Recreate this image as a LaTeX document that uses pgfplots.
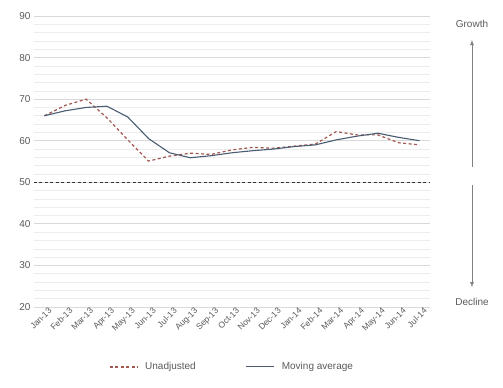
\documentclass[border=0pt]{standalone}
\usepackage{pgfplots}
\pgfplotsset{compat=1.18}
\usepackage{fontspec}
\setmainfont{Liberation Sans}
\definecolor{unadj}{HTML}{A0574F}
\definecolor{mavg}{HTML}{4A5C72}
\definecolor{txt}{HTML}{595959}
\definecolor{majgrid}{HTML}{D9D9D9}
\definecolor{mingrid}{HTML}{EDEDED}
\begin{document}
\begin{tikzpicture}
\useasboundingbox (-34bp,-81bp) rectangle (469bp,307bp);
\begin{axis}[
  at={(0,0)}, anchor=south west,
  scale only axis, width=396bp, height=291bp,
  xmin=-0.5, xmax=18.5, ymin=20, ymax=90,
  ytick={20,30,...,90}, minor y tick num=4,
  xtick={0,...,18},
  xticklabels={Jan-13,Feb-13,Mar-13,Apr-13,May-13,Jun-13,Jul-13,Aug-13,Sep-13,Oct-13,Nov-13,Dec-13,Jan-14,Feb-14,Mar-14,Apr-14,May-14,Jun-14,Jul-14},
  x tick label style={rotate=45, anchor=north east, font=\fontsize{8.5bp}{10bp}\selectfont, text=txt, inner sep=0.5bp, xshift=3bp, yshift=-2bp},
  y tick label style={font=\fontsize{10bp}{12bp}\selectfont, text=txt},
  /pgf/number format/assume math mode=true,
  axis line style={draw=none},
  major tick length=0pt, minor tick length=0pt,
  ymajorgrids, yminorgrids,
  major grid style={draw=majgrid, line width=0.8pt},
  minor grid style={draw=mingrid, line width=0.6pt},
  clip=false,
  legend columns=2,
  legend style={at={(0.5,-0.206)}, anchor=center, draw=none, fill=none,
    font=\fontsize{10bp}{12bp}\selectfont, text=txt,
    /tikz/every even column/.append style={column sep=48bp}},
  legend image code/.code={\draw[#1] (0bp,0bp) -- (28bp,0bp); \path (33bp,0bp);},
]
\addplot[unadj, line width=1.2pt, dash pattern=on 3pt off 2.5pt] coordinates {
(0,66) (1,68.5) (2,70) (3,65.5) (4,60.2) (5,55.1) (6,56.3) (7,57) (8,56.7) (9,57.8) (10,58.4) (11,58.2) (12,58.7) (13,59.2) (14,62.2) (15,61.4) (16,61.4) (17,59.5) (18,59)
};
\addlegendentry{Unadjusted}
\addplot[mavg, line width=1.1pt] coordinates {
(0,66) (1,67.2) (2,68) (3,68.3) (4,65.7) (5,60.5) (6,57.1) (7,55.9) (8,56.4) (9,57.1) (10,57.6) (11,58) (12,58.6) (13,59) (14,60.2) (15,61.1) (16,61.8) (17,60.8) (18,60)
};
\addlegendentry{Moving average}
\draw[black!80, line width=1pt, dash pattern=on 3pt off 2.5pt] (axis cs:-0.5,50) -- (axis cs:18.5,50);
\node[text=txt, font=\fontsize{10bp}{12bp}\selectfont] at (rel axis cs:1.106,0.973) {Growth};
\node[text=txt, font=\fontsize{10bp}{12bp}\selectfont] at (rel axis cs:1.106,0.018) {Decline};
\draw[gray, line width=0.8pt, -latex] (rel axis cs:1.106,0.48) -- (rel axis cs:1.106,0.918);
\draw[gray, line width=0.8pt, -latex] (rel axis cs:1.106,0.42) -- (rel axis cs:1.106,0.068);
\end{axis}
\end{tikzpicture}
\end{document}
